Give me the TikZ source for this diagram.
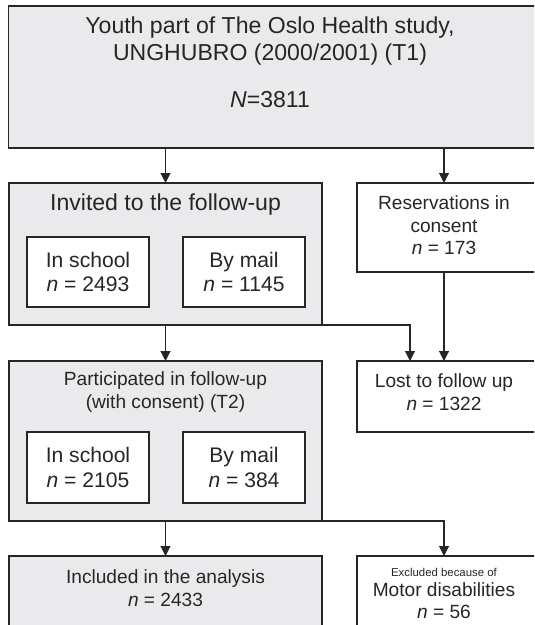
\documentclass[tikz,border=0pt]{standalone}
\usepackage{fontspec}
\setmainfont{Liberation Sans}
\usetikzlibrary{
    arrows.meta,
    positioning
}
\definecolor{flowgray}{RGB}{234,234,236}
\definecolor{flowink}{RGB}{38,38,38}
\tikzset{
  outbox/.style = {draw=flowink, fill=flowgray, line width=0.8pt,
                   inner sep=0pt, outer sep=0pt},
  subbox/.style = {draw=flowink, fill=white, line width=0.8pt,
                   minimum width=3.05cm, inner sep=0pt, outer sep=0pt,
                   align=center, text=flowink,
                   font=\fontsize{15}{17.7}\selectfont},
  arr/.style    = {-{Triangle[length=7pt,width=7pt]}, line width=0.8pt, flowink}
}

\begin{document}
\begin{tikzpicture}[
    x=0.025cm, y=-0.025cm,
    big/.style={font=\fontsize{16.4}{19.2}\selectfont, align=center, text=flowink},
    txt/.style={font=\fontsize{13.6}{16}\selectfont, align=center, text=flowink},
    smalltxt/.style={font=\fontsize{8.1}{9}\selectfont, text=flowink}
  ]
    \useasboundingbox (0,0) rectangle (534,625);
    \clip (0,0) rectangle (534,625);

    \node[outbox, minimum width=13.4cm, minimum height=3.55cm] (study) at (277,77) {};
    \node[big] (studytxt) at (270,41.5) {Youth part of The Oslo Health study,\\UNGHUBRO (2000/2001) (T1)};
    \node[big] (studyn)   at (270,100)  {\textit{N}=3811};

    \node[outbox, minimum width=7.825cm, minimum height=3.55cm] (invited) at (165.5,254) {};
    \node[big] (invitedtxt) at (165.5,205) {Invited to the follow-up};
    \node[subbox, minimum height=1.75cm] (invschool) at (88,272)  {In school\\\textit{n} = 2493};
    \node[subbox, minimum height=1.75cm] (invmail)   at (244,272) {By mail\\\textit{n} = 1145};

    \node[outbox, fill=white, minimum width=4.7cm, minimum height=2.225cm] (reserv) at (451,227.5) {};
    \node[txt] (reservtxt) at (444,225.5) {Reservations in\\consent\\\textit{n} = 173};

    \node[outbox, minimum width=7.825cm, minimum height=4cm] (partic) at (165.5,441) {};
    \node[txt] (partictxt) at (165.5,392) {Participated in follow-up\\(with consent) (T2)};
    \node[subbox, minimum height=1.775cm] (parschool) at (88,467.5)  {In school\\\textit{n} = 2105};
    \node[subbox, minimum height=1.775cm] (parmail)   at (244,467.5) {By mail\\\textit{n} = 384};

    \node[outbox, fill=white, minimum width=4.7cm, minimum height=1.775cm] (lost) at (451,396.5) {};
    \node[txt] (losttxt) at (444,392) {Lost to follow up\\\textit{n} = 1322};

    \node[outbox, minimum width=7.825cm, minimum height=2.1cm] (incl) at (165.5,598) {};
    \node[txt] (incltxt) at (165.5,588) {Included in the analysis\\\textit{n} = 2433};

    \node[outbox, fill=white, minimum width=4.7cm, minimum height=2.1cm] (excl) at (451,598) {};
    \node[smalltxt] (excltop) at (444,572)   {Excluded because of};
    \node[txt]      (excltxt) at (444,600.5) {Motor disabilities\\\textit{n} = 56};

    \coordinate (rcol)     at (444,0);
    \coordinate (lostjoin) at (410,361);

    \draw[arr] (study.south -| invited.north) -- (invited.north);
    \draw[arr] (study.south -| rcol) -- (reserv.north -| rcol);
    \draw[arr] (invited.south) -- (partic.north);
    \draw[arr] (invited.south east) -| (lostjoin);
    \draw[arr] (reserv.south -| rcol) -- (lost.north -| rcol);
    \draw[arr] (partic.south) -- (incl.north);
    \draw[arr] (partic.south east) -| (excl.north -| rcol);
  \end{tikzpicture}
\end{document}
